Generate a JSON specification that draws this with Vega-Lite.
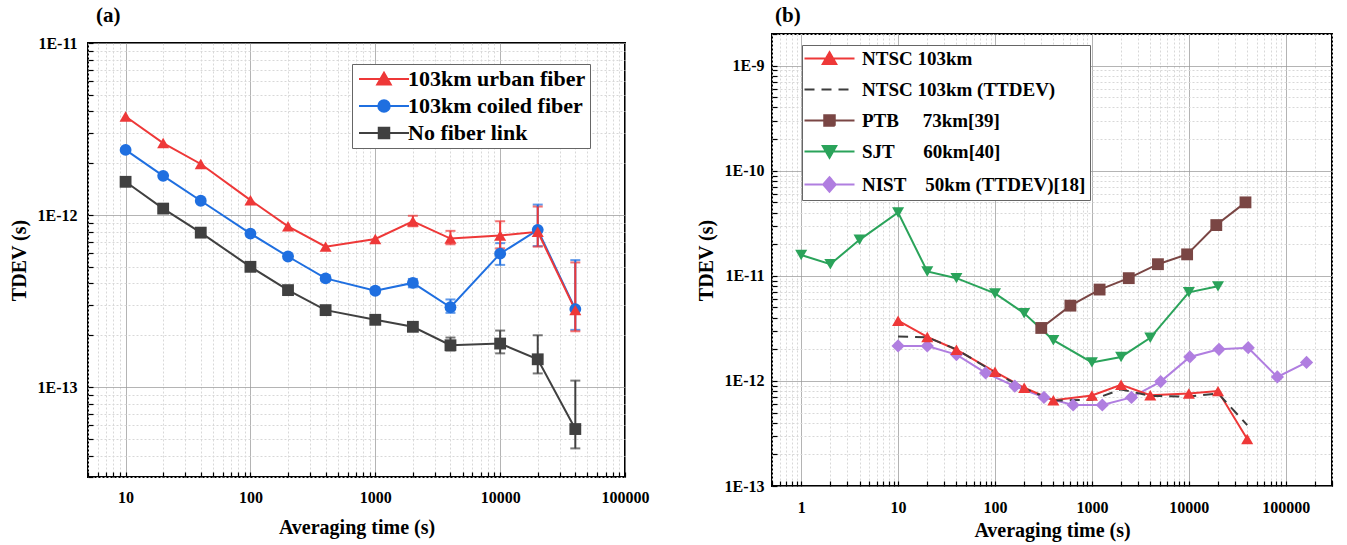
{
  "$schema": "https://vega.github.io/schema/vega-lite/v6.json",
  "background": "white",
  "padding": {"left": 8, "top": 4, "right": 5, "bottom": 5},
  "spacing": 147,
  "bounds": "flush",
  "center": true,
  "resolve": {"scale": {"color": "independent", "shape": "independent", "fill": "independent", "stroke": "independent", "strokeDash": "independent"}, "legend": {"color": "independent", "shape": "independent", "fill": "independent", "stroke": "independent", "strokeDash": "independent"}},
  "config": {
    "font": "Liberation Serif",
    "view": {"stroke": "black", "strokeWidth": 2},
    "title": {"font": "Liberation Serif", "fontSize": 21, "fontWeight": "bold", "color": "black", "anchor": "start", "frame": "group"},
    "axis": {
      "domain": false,
      "labelFont": "Liberation Serif", "labelFontSize": 16, "labelFontWeight": "bold", "labelColor": "black",
      "titleFont": "Liberation Serif", "titleFontSize": 20, "titleFontWeight": "bold", "titleColor": "black",
      "labelOverlap": false, "labelFlush": false,
      "tickColor": "black", "tickWidth": 1.2, "tickSize": -5,
      "gridColor": {"condition": {"test": "abs(log(datum.value)/LN10 - round(log(datum.value)/LN10)) < 0.001", "value": "#9a9a9a"}, "value": "#d8d8d8"},
      "gridDash": {"condition": {"test": "abs(log(datum.value)/LN10 - round(log(datum.value)/LN10)) < 0.001", "value": [1, 0]}, "value": [2, 2]},
      "gridWidth": 1
    },
    "legend": {
      "labelFont": "Liberation Serif", "labelFontWeight": "bold", "labelColor": "black", "labelLimit": 500,
      "strokeColor": "#666", "fillColor": "white", "padding": 4, "cornerRadius": 0,
      "symbolSize": 100, "symbolStrokeWidth": 2
    }
  },
  "hconcat": [
    {
      "width": 537, "height": 434,
      "title": {"text": "(a)", "dx": 8, "offset": 9},
      "data": {"values": [
        {"s": "No fiber link", "x": 10, "y": 1.56e-12},
        {"s": "No fiber link", "x": 20, "y": 1.09e-12},
        {"s": "No fiber link", "x": 40, "y": 7.9e-13},
        {"s": "No fiber link", "x": 100, "y": 5.0e-13},
        {"s": "No fiber link", "x": 200, "y": 3.66e-13},
        {"s": "No fiber link", "x": 400, "y": 2.8e-13},
        {"s": "No fiber link", "x": 1000, "y": 2.46e-13},
        {"s": "No fiber link", "x": 2000, "y": 2.24e-13, "lo": 2.15e-13, "hi": 2.33e-13},
        {"s": "No fiber link", "x": 4000, "y": 1.75e-13, "lo": 1.63e-13, "hi": 1.94e-13},
        {"s": "No fiber link", "x": 10000, "y": 1.79e-13, "lo": 1.57e-13, "hi": 2.13e-13},
        {"s": "No fiber link", "x": 20000, "y": 1.45e-13, "lo": 1.2e-13, "hi": 2.0e-13},
        {"s": "No fiber link", "x": 40000, "y": 5.7e-14, "lo": 4.4e-14, "hi": 1.09e-13},
        {"s": "103km coiled fiber", "x": 10, "y": 2.39e-12},
        {"s": "103km coiled fiber", "x": 20, "y": 1.69e-12},
        {"s": "103km coiled fiber", "x": 40, "y": 1.21e-12},
        {"s": "103km coiled fiber", "x": 100, "y": 7.8e-13},
        {"s": "103km coiled fiber", "x": 200, "y": 5.74e-13},
        {"s": "103km coiled fiber", "x": 400, "y": 4.28e-13, "lo": 4.15e-13, "hi": 4.45e-13},
        {"s": "103km coiled fiber", "x": 1000, "y": 3.63e-13, "lo": 3.5e-13, "hi": 3.78e-13},
        {"s": "103km coiled fiber", "x": 2000, "y": 4.03e-13, "lo": 3.8e-13, "hi": 4.25e-13},
        {"s": "103km coiled fiber", "x": 4000, "y": 2.91e-13, "lo": 2.7e-13, "hi": 3.23e-13},
        {"s": "103km coiled fiber", "x": 10000, "y": 5.96e-13, "lo": 5.13e-13, "hi": 6.86e-13},
        {"s": "103km coiled fiber", "x": 20000, "y": 8.2e-13, "lo": 6.6e-13, "hi": 1.15e-12},
        {"s": "103km coiled fiber", "x": 40000, "y": 2.84e-13, "lo": 2.15e-13, "hi": 5.47e-13},
        {"s": "103km urban fiber", "x": 10, "y": 3.74e-12},
        {"s": "103km urban fiber", "x": 20, "y": 2.62e-12},
        {"s": "103km urban fiber", "x": 40, "y": 1.98e-12},
        {"s": "103km urban fiber", "x": 100, "y": 1.22e-12},
        {"s": "103km urban fiber", "x": 200, "y": 8.6e-13},
        {"s": "103km urban fiber", "x": 400, "y": 6.55e-13},
        {"s": "103km urban fiber", "x": 1000, "y": 7.26e-13},
        {"s": "103km urban fiber", "x": 2000, "y": 9.2e-13, "lo": 8.6e-13, "hi": 9.9e-13},
        {"s": "103km urban fiber", "x": 4000, "y": 7.3e-13, "lo": 6.76e-13, "hi": 8.09e-13},
        {"s": "103km urban fiber", "x": 10000, "y": 7.6e-13, "lo": 6.4e-13, "hi": 9.2e-13},
        {"s": "103km urban fiber", "x": 20000, "y": 8.0e-13, "lo": 6.55e-13, "hi": 1.12e-12},
        {"s": "103km urban fiber", "x": 40000, "y": 2.8e-13, "lo": 2.11e-13, "hi": 5.3e-13}
      ]},
      "encoding": {
        "x": {"field": "x", "type": "quantitative",
          "scale": {"type": "log", "domain": [5, 100000], "nice": false, "zero": false},
          "axis": {"title": "Averaging time (s)", "labelPadding": 17, "titlePadding": 12,
            "values": [5,6,7,8,9,10,20,30,40,50,60,70,80,90,100,200,300,400,500,600,700,800,900,1000,2000,3000,4000,5000,6000,7000,8000,9000,10000,20000,30000,40000,50000,60000,70000,80000,90000,100000],
            "labelExpr": "abs(log(datum.value)/LN10 - round(log(datum.value)/LN10)) < 0.001 ? format(datum.value, 'd') : ''"}}
      },
      "layer": [
        {
          "mark": {"type": "line", "strokeWidth": 2},
          "encoding": {
            "y": {"field": "y", "type": "quantitative",
              "scale": {"type": "log", "domain": [3e-14, 1e-11], "nice": false, "zero": false},
              "axis": {"title": "TDEV (s)", "labelPadding": 16, "titlePadding": 8,
                "values": [3e-14,4e-14,5e-14,6e-14,7e-14,8e-14,9e-14,1e-13,2e-13,3e-13,4e-13,5e-13,6e-13,7e-13,8e-13,9e-13,1e-12,2e-12,3e-12,4e-12,5e-12,6e-12,7e-12,8e-12,9e-12,1e-11],
                "labelExpr": "abs(log(datum.value)/LN10 - round(log(datum.value)/LN10)) < 0.001 ? '1E' + round(log(datum.value)/LN10) : ''"}},
            "color": {"field": "s", "type": "nominal", "legend": null,
              "scale": {"domain": ["No fiber link", "103km coiled fiber", "103km urban fiber"], "range": ["#404040", "#1f6fe0", "#ee3838"]}}
          }
        },
        {
          "transform": [{"filter": "isValid(datum.lo)"}],
          "mark": {"type": "errorbar", "ticks": true, "size": 10, "thickness": 2},
          "encoding": {
            "y": {"field": "lo", "type": "quantitative", "title": "TDEV (s)"},
            "y2": {"field": "hi"},
            "color": {"field": "s", "type": "nominal", "legend": null}
          }
        },
        {
          "transform": [{"filter": "datum.s === 'No fiber link'"}],
          "mark": {"type": "point", "filled": true, "opacity": 1, "shape": "square", "size": 140, "color": "#404040"},
          "encoding": {"y": {"field": "y", "type": "quantitative", "title": "TDEV (s)"}}
        },
        {
          "transform": [{"filter": "datum.s === '103km coiled fiber'"}],
          "mark": {"type": "point", "filled": true, "opacity": 1, "shape": "circle", "size": 140, "color": "#1f6fe0"},
          "encoding": {"y": {"field": "y", "type": "quantitative", "title": "TDEV (s)"}}
        },
        {
          "transform": [{"filter": "datum.s === '103km urban fiber'"}],
          "mark": {"type": "point", "filled": true, "opacity": 1, "shape": "triangle-up", "size": 145, "color": "#ee3838"},
          "encoding": {"y": {"field": "y", "type": "quantitative", "title": "TDEV (s)"}}
        },
        {
          "mark": {"type": "point", "filled": true, "opacity": 0},
          "encoding": {
            "y": {"field": "y", "type": "quantitative", "title": "TDEV (s)"},
            "fill": {"field": "s", "type": "nominal",
              "scale": {"domain": ["103km urban fiber", "103km coiled fiber", "No fiber link"], "range": ["#ee3838", "#1f6fe0", "#404040"]},
              "legend": {"title": null, "orient": "none", "legendX": 264, "legendY": 21, "labelFontSize": 22, "rowPadding": 5, "symbolOffset": 17, "labelOffset": 13,
                "encode": {"symbols": {"update": {"fill": {"signal": "datum.value === '103km urban fiber' ? '#ee3838' : datum.value === '103km coiled fiber' ? '#1f6fe0' : '#404040'"}, "fillOpacity": {"value": 1}}}}}},
            "stroke": {"field": "s", "type": "nominal",
              "scale": {"domain": ["103km urban fiber", "103km coiled fiber", "No fiber link"], "range": ["#ee3838", "#1f6fe0", "#404040"]},
              "legend": {"title": null, "orient": "none", "legendX": 264, "legendY": 21, "labelFontSize": 22, "rowPadding": 5, "symbolOffset": 17, "labelOffset": 13,
                "encode": {"symbols": {"update": {"fill": {"signal": "datum.value === '103km urban fiber' ? '#ee3838' : datum.value === '103km coiled fiber' ? '#1f6fe0' : '#404040'"}, "fillOpacity": {"value": 1}}}}}},
            "shape": {"field": "s", "type": "nominal",
              "scale": {"domain": ["103km urban fiber", "103km coiled fiber", "No fiber link"],
                "range": ["M-5,0H5M0,-1.25L1.35,1.1H-1.35Z", "M-5,0H5M1.15,0A1.15,1.15,0,1,1,-1.15,0A1.15,1.15,0,1,1,1.15,0Z", "M-5,0H5M-1.05,-1.05H1.05V1.05H-1.05Z"]},
              "legend": {"title": null, "orient": "none", "legendX": 264, "legendY": 21, "labelFontSize": 22, "rowPadding": 5, "symbolOffset": 17, "labelOffset": 13,
                "encode": {"symbols": {"update": {"fill": {"signal": "datum.value === '103km urban fiber' ? '#ee3838' : datum.value === '103km coiled fiber' ? '#1f6fe0' : '#404040'"}, "fillOpacity": {"value": 1}}}}}}
          }
        }
      ]
    },
    {
      "width": 560, "height": 452,
      "title": {"text": "(b)", "dx": 3, "offset": 0},
      "data": {"values": [
        {"s": "SJT\u00a0\u00a0\u00a0\u00a0\u00a0\u00a060km[40]", "x": 1, "y": 1.58e-11},
        {"s": "SJT\u00a0\u00a0\u00a0\u00a0\u00a0\u00a060km[40]", "x": 2, "y": 1.29e-11},
        {"s": "SJT\u00a0\u00a0\u00a0\u00a0\u00a0\u00a060km[40]", "x": 4, "y": 2.2e-11},
        {"s": "SJT\u00a0\u00a0\u00a0\u00a0\u00a0\u00a060km[40]", "x": 10, "y": 4.0e-11},
        {"s": "SJT\u00a0\u00a0\u00a0\u00a0\u00a0\u00a060km[40]", "x": 20, "y": 1.1e-11},
        {"s": "SJT\u00a0\u00a0\u00a0\u00a0\u00a0\u00a060km[40]", "x": 40, "y": 9.5e-12},
        {"s": "SJT\u00a0\u00a0\u00a0\u00a0\u00a0\u00a060km[40]", "x": 100, "y": 6.8e-12},
        {"s": "SJT\u00a0\u00a0\u00a0\u00a0\u00a0\u00a060km[40]", "x": 200, "y": 4.4e-12},
        {"s": "SJT\u00a0\u00a0\u00a0\u00a0\u00a0\u00a060km[40]", "x": 400, "y": 2.44e-12},
        {"s": "SJT\u00a0\u00a0\u00a0\u00a0\u00a0\u00a060km[40]", "x": 1000, "y": 1.5e-12},
        {"s": "SJT\u00a0\u00a0\u00a0\u00a0\u00a0\u00a060km[40]", "x": 2000, "y": 1.69e-12},
        {"s": "SJT\u00a0\u00a0\u00a0\u00a0\u00a0\u00a060km[40]", "x": 4000, "y": 2.57e-12},
        {"s": "SJT\u00a0\u00a0\u00a0\u00a0\u00a0\u00a060km[40]", "x": 10000, "y": 6.97e-12},
        {"s": "SJT\u00a0\u00a0\u00a0\u00a0\u00a0\u00a060km[40]", "x": 20000, "y": 7.94e-12},
        {"s": "PTB\u00a0\u00a0\u00a0\u00a0\u00a073km[39]", "x": 300, "y": 3.19e-12},
        {"s": "PTB\u00a0\u00a0\u00a0\u00a0\u00a073km[39]", "x": 600, "y": 5.2e-12},
        {"s": "PTB\u00a0\u00a0\u00a0\u00a0\u00a073km[39]", "x": 1200, "y": 7.4e-12},
        {"s": "PTB\u00a0\u00a0\u00a0\u00a0\u00a073km[39]", "x": 2400, "y": 9.5e-12},
        {"s": "PTB\u00a0\u00a0\u00a0\u00a0\u00a073km[39]", "x": 4800, "y": 1.29e-11},
        {"s": "PTB\u00a0\u00a0\u00a0\u00a0\u00a073km[39]", "x": 9600, "y": 1.6e-11},
        {"s": "PTB\u00a0\u00a0\u00a0\u00a0\u00a073km[39]", "x": 19200, "y": 3.04e-11},
        {"s": "PTB\u00a0\u00a0\u00a0\u00a0\u00a073km[39]", "x": 38400, "y": 5.0e-11},
        {"s": "NIST\u00a0\u00a0\u00a0\u00a050km (TTDEV)[18]", "x": 10, "y": 2.15e-12},
        {"s": "NIST\u00a0\u00a0\u00a0\u00a050km (TTDEV)[18]", "x": 20, "y": 2.15e-12},
        {"s": "NIST\u00a0\u00a0\u00a0\u00a050km (TTDEV)[18]", "x": 40, "y": 1.78e-12},
        {"s": "NIST\u00a0\u00a0\u00a0\u00a050km (TTDEV)[18]", "x": 80, "y": 1.19e-12},
        {"s": "NIST\u00a0\u00a0\u00a0\u00a050km (TTDEV)[18]", "x": 160, "y": 8.9e-13},
        {"s": "NIST\u00a0\u00a0\u00a0\u00a050km (TTDEV)[18]", "x": 320, "y": 6.97e-13},
        {"s": "NIST\u00a0\u00a0\u00a0\u00a050km (TTDEV)[18]", "x": 640, "y": 5.9e-13},
        {"s": "NIST\u00a0\u00a0\u00a0\u00a050km (TTDEV)[18]", "x": 1280, "y": 5.9e-13},
        {"s": "NIST\u00a0\u00a0\u00a0\u00a050km (TTDEV)[18]", "x": 2560, "y": 6.97e-13},
        {"s": "NIST\u00a0\u00a0\u00a0\u00a050km (TTDEV)[18]", "x": 5120, "y": 9.85e-13},
        {"s": "NIST\u00a0\u00a0\u00a0\u00a050km (TTDEV)[18]", "x": 10240, "y": 1.69e-12},
        {"s": "NIST\u00a0\u00a0\u00a0\u00a050km (TTDEV)[18]", "x": 20480, "y": 2.0e-12},
        {"s": "NIST\u00a0\u00a0\u00a0\u00a050km (TTDEV)[18]", "x": 40960, "y": 2.07e-12},
        {"s": "NIST\u00a0\u00a0\u00a0\u00a050km (TTDEV)[18]", "x": 81920, "y": 1.09e-12},
        {"s": "NIST\u00a0\u00a0\u00a0\u00a050km (TTDEV)[18]", "x": 163840, "y": 1.5e-12},
        {"s": "NTSC 103km (TTDEV)", "x": 10, "y": 2.65e-12},
        {"s": "NTSC 103km (TTDEV)", "x": 20, "y": 2.6e-12},
        {"s": "NTSC 103km (TTDEV)", "x": 40, "y": 2.0e-12},
        {"s": "NTSC 103km (TTDEV)", "x": 100, "y": 1.2e-12},
        {"s": "NTSC 103km (TTDEV)", "x": 200, "y": 8.5e-13},
        {"s": "NTSC 103km (TTDEV)", "x": 400, "y": 6.5e-13},
        {"s": "NTSC 103km (TTDEV)", "x": 1000, "y": 6.6e-13},
        {"s": "NTSC 103km (TTDEV)", "x": 2000, "y": 8.3e-13},
        {"s": "NTSC 103km (TTDEV)", "x": 4000, "y": 7.2e-13},
        {"s": "NTSC 103km (TTDEV)", "x": 10000, "y": 7.1e-13},
        {"s": "NTSC 103km (TTDEV)", "x": 20000, "y": 7.6e-13},
        {"s": "NTSC 103km (TTDEV)", "x": 40000, "y": 3.8e-13},
        {"s": "NTSC 103km", "x": 10, "y": 3.74e-12},
        {"s": "NTSC 103km", "x": 20, "y": 2.62e-12},
        {"s": "NTSC 103km", "x": 40, "y": 1.98e-12},
        {"s": "NTSC 103km", "x": 100, "y": 1.22e-12},
        {"s": "NTSC 103km", "x": 200, "y": 8.6e-13},
        {"s": "NTSC 103km", "x": 400, "y": 6.55e-13},
        {"s": "NTSC 103km", "x": 1000, "y": 7.26e-13},
        {"s": "NTSC 103km", "x": 2000, "y": 9.2e-13},
        {"s": "NTSC 103km", "x": 4000, "y": 7.3e-13},
        {"s": "NTSC 103km", "x": 10000, "y": 7.6e-13},
        {"s": "NTSC 103km", "x": 20000, "y": 8.0e-13},
        {"s": "NTSC 103km", "x": 40000, "y": 2.8e-13}
      ]},
      "encoding": {
        "x": {"field": "x", "type": "quantitative",
          "scale": {"type": "log", "domain": [0.5, 300000], "nice": false, "zero": false},
          "axis": {"title": "Averaging time (s)", "labelPadding": 18, "titlePadding": 5,
            "values": [0.5,0.6,0.7,0.8,0.9,1,2,3,4,5,6,7,8,9,10,20,30,40,50,60,70,80,90,100,200,300,400,500,600,700,800,900,1000,2000,3000,4000,5000,6000,7000,8000,9000,10000,20000,30000,40000,50000,60000,70000,80000,90000,100000,200000,300000],
            "labelExpr": "abs(log(datum.value)/LN10 - round(log(datum.value)/LN10)) < 0.001 ? format(datum.value, 'd') : ''"}},
        "y": {"field": "y", "type": "quantitative",
          "scale": {"type": "log", "domain": [1e-13, 2e-9], "nice": false, "zero": false},
          "axis": {"title": "TDEV (s)", "labelPadding": 13, "titlePadding": 8,
            "values": [1e-13,2e-13,3e-13,4e-13,5e-13,6e-13,7e-13,8e-13,9e-13,1e-12,2e-12,3e-12,4e-12,5e-12,6e-12,7e-12,8e-12,9e-12,1e-11,2e-11,3e-11,4e-11,5e-11,6e-11,7e-11,8e-11,9e-11,1e-10,2e-10,3e-10,4e-10,5e-10,6e-10,7e-10,8e-10,9e-10,1e-9,2e-9],
            "labelExpr": "abs(log(datum.value)/LN10 - round(log(datum.value)/LN10)) < 0.001 ? '1E' + round(log(datum.value)/LN10) : ''"}}
      },
      "layer": [
        {
          "transform": [{"filter": "datum.s !== 'NTSC 103km (TTDEV)'"}],
          "mark": {"type": "line", "strokeWidth": 2},
          "encoding": {
            "color": {"field": "s", "type": "nominal", "legend": null,
              "scale": {"domain": ["SJT\u00a0\u00a0\u00a0\u00a0\u00a0\u00a060km[40]", "PTB\u00a0\u00a0\u00a0\u00a0\u00a073km[39]", "NIST\u00a0\u00a0\u00a0\u00a050km (TTDEV)[18]", "NTSC 103km"],
                "range": ["#2aa35a", "#7a4644", "#b07ee0", "#ee3838"]}}
          }
        },
        {
          "transform": [{"filter": "datum.s === 'NTSC 103km (TTDEV)'"}],
          "mark": {"type": "line", "strokeWidth": 2, "color": "#3c3c3c", "strokeDash": [10, 7]}
        },
        {
          "transform": [{"filter": "datum.s === 'SJT\u00a0\u00a0\u00a0\u00a0\u00a0\u00a060km[40]'"}],
          "mark": {"type": "point", "filled": true, "opacity": 1, "shape": "triangle-down", "size": 145, "color": "#2aa35a"}
        },
        {
          "transform": [{"filter": "datum.s === 'PTB\u00a0\u00a0\u00a0\u00a0\u00a073km[39]'"}],
          "mark": {"type": "point", "filled": true, "opacity": 1, "shape": "square", "size": 140, "color": "#7a4644"}
        },
        {
          "transform": [{"filter": "datum.s === 'NIST\u00a0\u00a0\u00a0\u00a050km (TTDEV)[18]'"}],
          "mark": {"type": "point", "filled": true, "opacity": 1, "shape": "diamond", "size": 175, "color": "#b07ee0"}
        },
        {
          "transform": [{"filter": "datum.s === 'NTSC 103km'"}],
          "mark": {"type": "point", "filled": true, "opacity": 1, "shape": "triangle-up", "size": 145, "color": "#ee3838"}
        },
        {
          "mark": {"type": "point", "filled": true, "opacity": 0},
          "encoding": {
            "fill": {"field": "s", "type": "nominal",
              "scale": {"domain": ["NTSC 103km", "NTSC 103km (TTDEV)", "PTB\u00a0\u00a0\u00a0\u00a0\u00a073km[39]", "SJT\u00a0\u00a0\u00a0\u00a0\u00a0\u00a060km[40]", "NIST\u00a0\u00a0\u00a0\u00a050km (TTDEV)[18]"],
                "range": ["#ee3838", "#3c3c3c", "#7a4644", "#2aa35a", "#b07ee0"]},
              "legend": {"title": null, "orient": "none", "legendX": 30, "legendY": 11, "labelFontSize": 19, "rowPadding": 11, "symbolOffset": 14, "labelOffset": 23,
                "encode": {"symbols": {"update": {"fill": {"signal": "datum.value === 'NTSC 103km' ? '#ee3838' : datum.value === 'NTSC 103km (TTDEV)' ? '#3c3c3c' : indexof(datum.value, 'PTB') === 0 ? '#7a4644' : indexof(datum.value, 'SJT') === 0 ? '#2aa35a' : '#b07ee0'"}, "fillOpacity": {"value": 1}}}}}},
            "stroke": {"field": "s", "type": "nominal",
              "scale": {"domain": ["NTSC 103km", "NTSC 103km (TTDEV)", "PTB\u00a0\u00a0\u00a0\u00a0\u00a073km[39]", "SJT\u00a0\u00a0\u00a0\u00a0\u00a0\u00a060km[40]", "NIST\u00a0\u00a0\u00a0\u00a050km (TTDEV)[18]"],
                "range": ["#ee3838", "#3c3c3c", "#7a4644", "#2aa35a", "#b07ee0"]},
              "legend": {"title": null, "orient": "none", "legendX": 30, "legendY": 11, "labelFontSize": 19, "rowPadding": 11, "symbolOffset": 14, "labelOffset": 23,
                "encode": {"symbols": {"update": {"fill": {"signal": "datum.value === 'NTSC 103km' ? '#ee3838' : datum.value === 'NTSC 103km (TTDEV)' ? '#3c3c3c' : indexof(datum.value, 'PTB') === 0 ? '#7a4644' : indexof(datum.value, 'SJT') === 0 ? '#2aa35a' : '#b07ee0'"}, "fillOpacity": {"value": 1}}}}}},
            "shape": {"field": "s", "type": "nominal",
              "scale": {"domain": ["NTSC 103km", "NTSC 103km (TTDEV)", "PTB\u00a0\u00a0\u00a0\u00a0\u00a073km[39]", "SJT\u00a0\u00a0\u00a0\u00a0\u00a0\u00a060km[40]", "NIST\u00a0\u00a0\u00a0\u00a050km (TTDEV)[18]"],
                "range": ["M-5,0H5M0,-1.25L1.35,1.1H-1.35Z", "M-5,0H5", "M-5,0H5M-1.05,-1.05H1.05V1.05H-1.05Z", "M-5,0H5M0,1.25L1.35,-1.1H-1.35Z", "M-5,0H5M0,-1.45L1.25,0L0,1.45L-1.25,0Z"]},
              "legend": {"title": null, "orient": "none", "legendX": 30, "legendY": 11, "labelFontSize": 19, "rowPadding": 11, "symbolOffset": 14, "labelOffset": 23,
                "encode": {"symbols": {"update": {"fill": {"signal": "datum.value === 'NTSC 103km' ? '#ee3838' : datum.value === 'NTSC 103km (TTDEV)' ? '#3c3c3c' : indexof(datum.value, 'PTB') === 0 ? '#7a4644' : indexof(datum.value, 'SJT') === 0 ? '#2aa35a' : '#b07ee0'"}, "fillOpacity": {"value": 1}}}}}},
            "strokeDash": {"field": "s", "type": "nominal",
              "scale": {"domain": ["NTSC 103km", "NTSC 103km (TTDEV)", "PTB\u00a0\u00a0\u00a0\u00a0\u00a073km[39]", "SJT\u00a0\u00a0\u00a0\u00a0\u00a0\u00a060km[40]", "NIST\u00a0\u00a0\u00a0\u00a050km (TTDEV)[18]"],
                "range": [[1, 0], [10, 7], [1, 0], [1, 0], [1, 0]]},
              "legend": {"title": null, "orient": "none", "legendX": 30, "legendY": 11, "labelFontSize": 19, "rowPadding": 11, "symbolOffset": 14, "labelOffset": 23,
                "encode": {"symbols": {"update": {"fill": {"signal": "datum.value === 'NTSC 103km' ? '#ee3838' : datum.value === 'NTSC 103km (TTDEV)' ? '#3c3c3c' : indexof(datum.value, 'PTB') === 0 ? '#7a4644' : indexof(datum.value, 'SJT') === 0 ? '#2aa35a' : '#b07ee0'"}, "fillOpacity": {"value": 1}}}}}}
          }
        }
      ]
    }
  ]
}
